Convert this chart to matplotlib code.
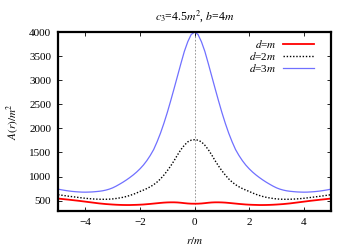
import numpy as np
import matplotlib
matplotlib.use('Agg')
import matplotlib.pyplot as plt

plt.rcParams['font.family'] = ['Liberation Serif', 'DejaVu Serif']
plt.rcParams['mathtext.fontset'] = 'stix'

# r >= 0 half (step 0.125), curves are symmetric about r = 0
r_half = [i * 0.125 for i in range(41)]
a_d1 = [435, 436, 440, 447, 455, 461, 464, 464, 462, 458, 452, 445, 438, 431,
        425, 419, 415, 412, 410, 408, 408, 409, 411, 414, 418, 423, 428, 435,
        442, 451, 460, 469, 478, 487, 496, 504, 512, 520, 527, 535, 542]
a_d2 = [1765, 1755, 1720, 1650, 1560, 1450, 1330, 1220, 1120, 1030, 950, 885,
        830, 787, 750, 718, 690, 658, 630, 606, 585, 568, 555, 544, 535, 530,
        527, 527, 528, 531, 535, 541, 548, 556, 565, 574, 583, 592, 602, 612, 622]
a_d3 = [4000, 3950, 3800, 3600, 3350, 3090, 2830, 2575, 2330, 2105, 1900, 1720,
        1560, 1437, 1330, 1238, 1160, 1092, 1032, 978, 928, 882, 840, 800, 765,
        738, 718, 703, 693, 686, 680, 677, 675, 676, 680, 685, 692, 701, 712,
        724, 738]

labels = ['$d$=$m$', '$d$=2$m$', '$d$=3$m$']
xticks = [-4, -2, 0, 2, 4]
yticks = [500, 1000, 1500, 2000, 2500, 3000, 3500, 4000]


def full(half):
    h = np.array(half, dtype=float)
    return np.concatenate([h[:0:-1], h])


r = np.concatenate([-np.array(r_half[:0:-1]), np.array(r_half)])

fig = plt.figure(figsize=(3.5, 2.45), dpi=100)
ax = fig.add_axes([0.166, 0.139, 0.78, 0.730])

ax.axvline(0, color='#888888', lw=0.6, ls=(0, (2, 2)), zorder=1)
ax.plot(r, full(a_d1), color='#ff0000', lw=1.3, label=labels[0])
ax.plot(r, full(a_d2), color='black', lw=1.0, ls=(0, (1, 1.3)), label=labels[1])
ax.plot(r, full(a_d3), color='#7070ff', lw=0.9, label=labels[2])

ax.set_xlim(-5, 5)
ax.set_ylim(285, 4000)
ax.set_xticks(xticks)
ax.set_xticklabels(['\u2212' + str(-t) if t < 0 else str(t) for t in xticks])
ax.set_yticks(yticks)
ax.tick_params(direction='in', top=True, right=True, length=3, width=0.6,
               labelsize=8, pad=5)
for s in ax.spines.values():
    s.set_linewidth(1.6)

ax.set_title('$c_3$=4.5$m^2$, $b$=4$m$', fontsize=8.5, pad=9)
ax.set_xlabel('$r/m$', fontsize=8, labelpad=6)
ax.set_ylabel('$A(r)/m^2$', fontsize=8, labelpad=6)

leg = ax.legend(loc='upper right', bbox_to_anchor=(0.96, 1.0),
                markerfirst=False, frameon=False,
                fontsize=8, handlelength=2.8, labelspacing=0.0,
                borderaxespad=0.15, handletextpad=0.6)

fig.savefig('out.png', dpi=100)
